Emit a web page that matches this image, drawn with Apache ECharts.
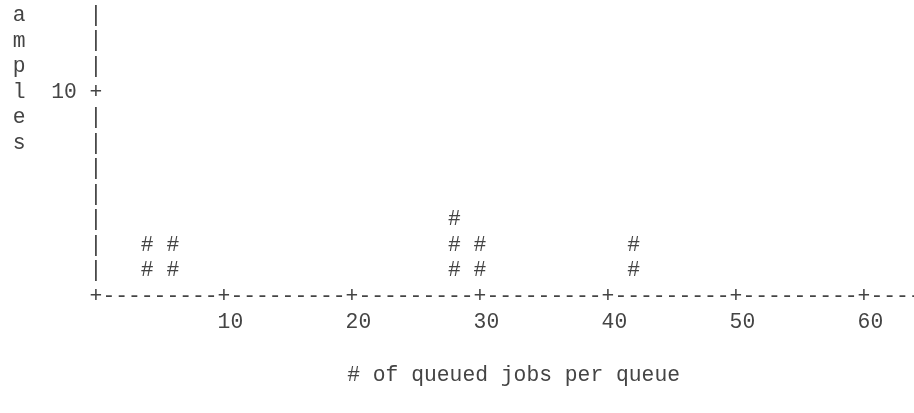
<!DOCTYPE html>
<html>
<head>
<meta charset="utf-8">
<script src="https://cdn.jsdelivr.net/npm/echarts@6/dist/echarts.min.js"></script>
<style>
  html, body { margin: 0; padding: 0; background: #fff; }
  #chart { width: 914px; height: 413px; }
</style>
</head>
<body>
<div id="chart"></div>
<script>
// Histogram of queued jobs per queue, drawn in a text-terminal style.
const binCenters = [4, 6, 28, 30, 42];
const sampleCounts = [3, 3, 4, 3, 3];
const xTickLabels = [10, 20, 30, 40, 50, 60];
const yTickLabels = [10];
const xTitle = '# of queued jobs per queue';
const yTitle = 'Samples';

const FONT = '"Liberation Mono", "Courier New", monospace';
const FS = 21.33;
const INK = '#444';
const X_MAX = 64;      // one character column per x unit
const Y_MAX = 14.5;
const ROW = 1.25;      // y units per text row
const X_STEP = 10;
const Y_STEP = 10;

function glyph(p, ch) {
  return {
    type: 'text',
    style: {
      text: ch, x: p[0], y: p[1],
      align: 'center', verticalAlign: 'middle',
      fontFamily: FONT, fontSize: FS, fill: INK
    }
  };
}

// Axis frame made of '+', '-' and '|' characters on the value grid.
function frameItem(params, api) {
  const children = [];
  for (let c = 0; c <= X_MAX; c++) {
    children.push(glyph(api.coord([c, 0]), c % X_STEP === 0 ? '+' : '-'));
  }
  const topRow = Math.floor(Y_MAX / ROW) + 1;
  for (let r = 1; r <= topRow; r++) {
    const v = r * ROW;
    children.push(glyph(api.coord([0, v]), v % Y_STEP === 0 ? '+' : '|'));
  }
  return { type: 'group', children };
}

// Each bin is a column of '#' characters, one per text row.
function binItem(params, api) {
  const x = api.value(0);
  const rows = Math.round(api.value(1) / ROW);
  const children = [];
  for (let k = 1; k <= rows; k++) {
    children.push(glyph(api.coord([x, k * ROW]), '#'));
  }
  return { type: 'group', children };
}

const textStyle = { fontFamily: FONT, fontSize: FS, color: INK };

const chart = echarts.init(document.getElementById('chart'), null, { renderer: 'canvas' });
chart.setOption({
  animation: false,
  backgroundColor: '#fff',
  grid: { left: 96, top: 0, width: 819.2, height: 296, containLabel: false, outerBoundsMode: 'none' },
  xAxis: {
    type: 'value', min: 0, max: X_MAX, interval: X_STEP,
    axisLine: { show: false }, axisTick: { show: false }, splitLine: { show: false },
    axisLabel: {
      showMinLabel: false, showMaxLabel: false, margin: 13,
      formatter: v => xTickLabels.includes(v) ? '{t|' + v + '}' : '',
      rich: { t: Object.assign({ padding: [0, 0, 0, 12.8], lineHeight: 26 }, textStyle) }
    },
    name: xTitle, nameLocation: 'middle', nameGap: 66, nameMoveOverlap: false,
    nameTextStyle: Object.assign({ align: 'center', verticalAlign: 'top', lineHeight: 26, padding: [0, 0, 0, 16] }, textStyle)
  },
  yAxis: {
    type: 'value', min: 0, max: Y_MAX, interval: Y_STEP,
    axisLine: { show: false }, axisTick: { show: false }, splitLine: { show: false },
    axisLabel: Object.assign({
      showMinLabel: false, showMaxLabel: false, margin: 19.2,
      formatter: v => yTickLabels.includes(v) ? String(v) : ''
    }, textStyle),
    // vertical title, one letter per text row, starting just above the top of the axis
    name: yTitle.split('').join('\n'), nameLocation: 'end', nameRotate: 0, nameGap: 22.75,
    nameMoveOverlap: false,
    nameTextStyle: Object.assign({ align: 'right', verticalAlign: 'top', lineHeight: 25.5, padding: [0, 70.4, 0, 0] }, textStyle)
  },
  series: [
    { type: 'custom', name: 'frame', renderItem: frameItem, data: [[0, 0]], silent: true, z: 1 },
    { type: 'custom', name: 'samples', renderItem: binItem,
      data: binCenters.map((x, i) => [x, sampleCounts[i]]), z: 2 }
  ]
});
</script>
</body>
</html>
